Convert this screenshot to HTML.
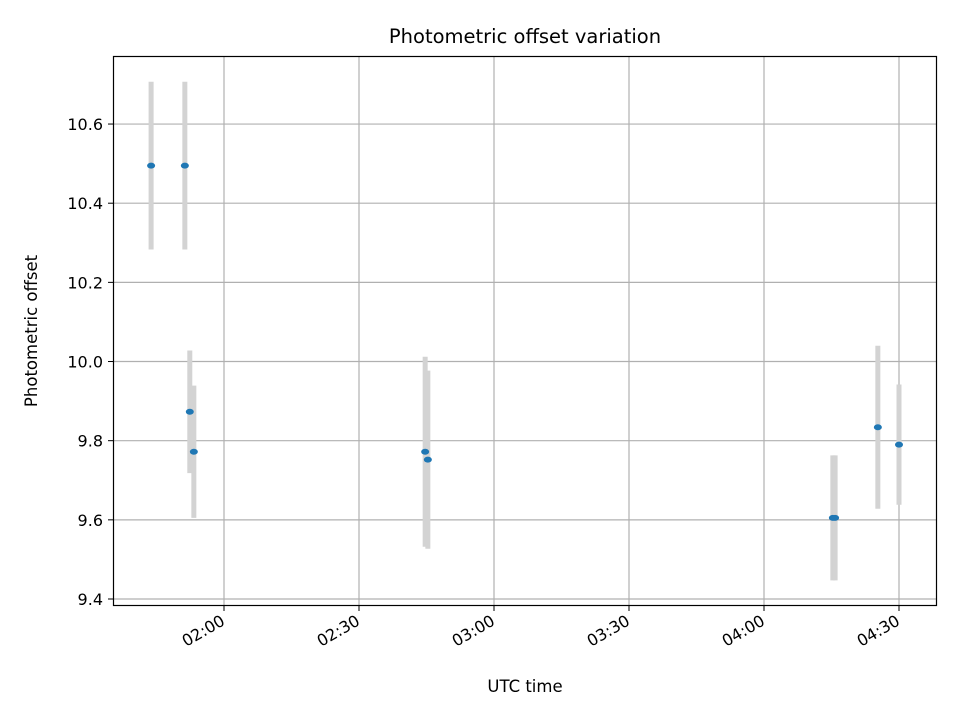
<!DOCTYPE html>
<html><head><meta charset="utf-8"><style>
body{margin:0;background:#fff;font-family:"DejaVu Sans","Liberation Sans",sans-serif}
</style></head><body>
<svg id="chart" width="960" height="720" xmlns="http://www.w3.org/2000/svg" font-family="DejaVu Sans, Liberation Sans, sans-serif">
<rect width="960" height="720" fill="#fff"/>
<g id="grid"></g>
<g id="marks"></g>
<rect x="113.5" y="56.5" width="823" height="549" fill="none" stroke="#000" stroke-width="1.2"/>
<g id="axes"></g>
<text x="525" y="43" font-size="19.5" text-anchor="middle">Photometric offset variation</text>
<text x="525" y="692" font-size="16.5" text-anchor="middle">UTC time</text>
<text transform="translate(37,331) rotate(-90)" font-size="16.5" text-anchor="middle">Photometric offset</text>
</svg>
<script>
const times = ["01:43.8","01:51.3","01:52.4","01:53.3","02:44.7","02:45.3","04:15.3","04:15.8","04:25.3","04:30.0"];
const offsets = [10.495,10.495,9.873,9.772,9.772,9.752,9.605,9.605,9.834,9.790];
const errors = [0.212,0.212,0.155,0.167,0.24,0.225,0.158,0.158,0.206,0.152];
const xTicks = ["02:00","02:30","03:00","03:30","04:00","04:30"];
const yTicks = [9.4,9.6,9.8,10.0,10.2,10.4,10.6];

const NS="http://www.w3.org/2000/svg";
function mins(t){const [h,m]=t.split(":");return parseFloat(h)*60+parseFloat(m);}
function xs(t){return 224+(mins(t)-120)*4.5;}
function ys(v){return 599-(v-9.4)*395.8;}
function mk(tag,attrs,parent){const e=document.createElementNS(NS,tag);for(const k in attrs)e.setAttribute(k,attrs[k]);parent.appendChild(e);return e;}
const grid=document.getElementById('grid'),axes=document.getElementById('axes'),marks=document.getElementById('marks');
xTicks.forEach(t=>{const x=xs(t);
 const g=mk('line',{x1:x,x2:x,y1:56,y2:606,stroke:'#b0b0b0','stroke-width':1.2},grid);
 
 const tk=mk('line',{x1:x,x2:x,y1:606,y2:611,stroke:'#000'},axes);
 
 const tx=mk('text',{x:x+2,y:624,'font-size':16,'text-anchor':'end',transform:`rotate(-30 ${x+2} 624)`},axes);
 tx.textContent=t;
});
yTicks.forEach(v=>{const y=ys(v);
 const g=mk('line',{x1:113,x2:937,y1:y,y2:y,stroke:'#b0b0b0','stroke-width':1.2},grid);
 
 const tk=mk('line',{x1:108,x2:113,y1:y,y2:y,stroke:'#000'},axes);
 
 const tx=mk('text',{x:103,y:y+6,'font-size':16,'text-anchor':'end'},axes);
 tx.textContent=v.toFixed(1);
});
times.forEach((t,i)=>{const x=xs(t);
 const b=mk('line',{x1:x,x2:x,y1:ys(offsets[i]+errors[i]),y2:ys(offsets[i]-errors[i]),stroke:'#d3d3d3','stroke-width':5},marks);
 
});
times.forEach((t,i)=>{
 const p=mk('ellipse',{cx:xs(t),cy:ys(offsets[i]),rx:4,ry:3,fill:'#1f77b4'},marks);
 
});
</script>
</body></html>
